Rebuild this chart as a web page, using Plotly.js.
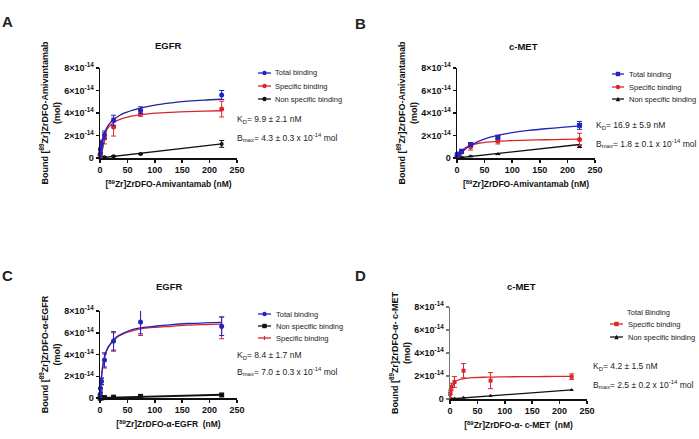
<!DOCTYPE html>
<html><head><meta charset="utf-8">
<script src="https://cdn.plot.ly/plotly-3.0.1.min.js"></script>
<style>html,body{margin:0;padding:0;background:#fff}#chart{width:699px;height:439px}</style>
</head><body><div id="chart"></div>
<script>
// ---- data (bound values in units of 1e-14 mol) ----
const conc = [0.3, 0.9, 2.7, 8.2, 24.7, 74, 222];
const fitConc = [0, 1, 2, 4, 6, 10, 15, 20, 30, 40, 60, 80, 100, 130, 160, 190, 222];
const lineConc = [0, 222];

const xTickVals = [0, 50, 100, 150, 200, 250];
const xTickText = ['0', '50', '100', '150', '200', '250'];
const yTickVals = [0, 2, 4, 6, 8];
const yTickText = ['0', '2×10<sup>-14</sup>', '4×10<sup>-14</sup>', '6×10<sup>-14</sup>', '8×10<sup>-14</sup>'];

// Panel A
const aTotal = [0.35, 0.8, 1.3, 2.05, 3.35, 4.25, 5.6];
const aTotalErr = [0.2, 0.3, 0.3, 0.35, 0.45, 0.3, 0.4];
const aSpec = [0.25, 0.7, 1.2, 1.75, 2.75, 3.95, 4.35];
const aSpecErr = [0.2, 0.3, 0.3, 0.5, 0.8, 0.25, 0.7];
const aNS = [0.01, 0.02, 0.04, 0.07, 0.15, 0.35, 1.25];
const aNSErr = [0, 0, 0, 0, 0.05, 0.05, 0.3];
const aTotalFit = [0, 0.45, 0.85, 1.45, 1.9, 2.45, 2.9, 3.2, 3.6, 3.9, 4.25, 4.5, 4.7, 4.9, 5.05, 5.15, 5.22];
const aSpecFit = [0, 0.42, 0.8, 1.4, 1.8, 2.3, 2.7, 2.95, 3.3, 3.5, 3.75, 3.88, 3.98, 4.06, 4.12, 4.17, 4.2];
const aNSLine = [0, 1.25];

// Panel B
const bTotal = [0.2, 0.3, 0.35, 0.6, 1.2, 1.85, 2.9];
const bTotalErr = [0.1, 0.1, 0.1, 0.15, 0.15, 0.15, 0.35];
const bSpec = [0.15, 0.2, 0.3, 0.5, 1.0, 1.5, 1.65];
const bSpecErr = [0.1, 0.1, 0.1, 0.1, 0.3, 0.25, 0.55];
const bNS = [0.01, 0.02, 0.03, 0.07, 0.15, 0.35, 1.05];
const bNSErr = [0, 0, 0, 0, 0.03, 0.05, 0.12];
const bTotalFit = [0, 0.07, 0.13, 0.25, 0.36, 0.55, 0.78, 0.97, 1.27, 1.5, 1.85, 2.08, 2.25, 2.45, 2.6, 2.72, 2.85];
const bSpecFit = [0, 0.1, 0.19, 0.35, 0.48, 0.7, 0.9, 1.03, 1.2, 1.31, 1.43, 1.5, 1.55, 1.59, 1.62, 1.65, 1.68];
const bNSLine = [0, 1.2];

// Panel C
const cTotal = [0.35, 0.9, 1.55, 3.5, 5.25, 7.0, 6.6];
const cTotalErr = [0.3, 0.4, 0.3, 0.65, 0.85, 1.1, 0.85];
const cSpec = [0.3, 0.85, 1.5, 3.4, 5.15, 6.9, 6.45];
const cSpecErr = [0.3, 0.4, 0.3, 0.65, 0.85, 1.15, 1.0];
const cNS = [0.0, 0.01, 0.02, 0.04, 0.08, 0.15, 0.28];
const cTotalFit = [0, 0.85, 1.55, 2.55, 3.25, 4.1, 4.7, 5.05, 5.6, 5.9, 6.3, 6.5, 6.6, 6.75, 6.85, 6.9, 6.95];
const cSpecFit = [0, 0.8, 1.5, 2.5, 3.2, 4.05, 4.65, 5.0, 5.55, 5.85, 6.2, 6.4, 6.5, 6.6, 6.7, 6.75, 6.8];
const cNSLine = [0, 0.3];

// Panel D
const dSpec = [0.43, 0.72, 1.07, 1.48, 2.46, 1.6, 1.94];
const dSpecErr = [0.3, 0.3, 0.3, 0.47, 0.62, 0.7, 0.25];
const dNS = [0.0, 0.01, 0.02, 0.05, 0.1, 0.29, 0.78];
const dSpecFit = [0, 0.4, 0.7, 1.0, 1.25, 1.5, 1.65, 1.73, 1.8, 1.85, 1.89, 1.91, 1.93, 1.94, 1.95, 1.96, 1.97];
const dNSLine = [0, 0.8];

const legendA = ['Total binding', 'Specific binding', 'Non specific binding'];
const legendB = ['Total binding', 'Specific binding', 'Non specific binding'];
const legendC = ['Total binding', 'Non specific binding', 'Specific binding'];
const legendD = ['Total Binding', 'Specific binding', 'Non specific binding'];

// ---- styling ----
const W = 699, H = 439;
const FONT = 'Liberation Sans, Arial, sans-serif';
const BLUE = '#2323c0', BLUEFIT = '#23239a', RED = '#d9262b', BLACK = '#111111';
const px = x => x / W, py = y => 1 - y / H;

function pts(xa, ya, y, err, color, symbol, size) {
  return {x: conc, y: y, xaxis: xa, yaxis: ya, type: 'scatter', mode: 'markers', cliponaxis: false,
    showlegend: false, marker: {color: color, symbol: symbol, size: size || 5},
    error_y: err ? {type: 'data', array: err, color: color, thickness: 1, width: 2.5, visible: true} : {visible: false}};
}
function fit(xa, ya, xs, y, color, w) {
  return {x: xs, y: y, xaxis: xa, yaxis: ya, type: 'scatter', mode: 'lines', cliponaxis: false,
    showlegend: false, hoverinfo: 'skip', line: {color: color, width: w || 1.3, shape: 'spline', smoothing: 0.8}};
}

const traces = [
  fit('x', 'y', lineConc, aNSLine, BLACK), pts('x', 'y', aNS, aNSErr, BLACK, 'circle', 4),
  fit('x', 'y', fitConc, aSpecFit, RED), pts('x', 'y', aSpec, aSpecErr, RED, 'circle', 5),
  fit('x', 'y', fitConc, aTotalFit, BLUEFIT), pts('x', 'y', aTotal, aTotalErr, BLUE, 'circle', 5),

  fit('x2', 'y2', lineConc, bNSLine, BLACK), pts('x2', 'y2', bNS, bNSErr, BLACK, 'triangle-up', 4),
  fit('x2', 'y2', fitConc, bSpecFit, RED), pts('x2', 'y2', bSpec, bSpecErr, RED, 'circle', 5),
  fit('x2', 'y2', fitConc, bTotalFit, BLUE), pts('x2', 'y2', bTotal, bTotalErr, BLUE, 'square', 5),

  fit('x3', 'y3', lineConc, cNSLine, BLACK, 1.8), pts('x3', 'y3', cNS, null, BLACK, 'square', 5),
  fit('x3', 'y3', fitConc, cSpecFit, RED), pts('x3', 'y3', cSpec, cSpecErr, RED, 'circle', 3),
  fit('x3', 'y3', fitConc, cTotalFit, BLUE), pts('x3', 'y3', cTotal, cTotalErr, BLUE, 'circle', 5),

  fit('x4', 'y4', lineConc, dNSLine, BLACK), pts('x4', 'y4', dNS, null, BLACK, 'triangle-up', 4),
  fit('x4', 'y4', fitConc, dSpecFit, RED), pts('x4', 'y4', dSpec, dSpecErr, RED, 'square', 4)
];

function xax(dom, anchor, title, lc) {
  return {domain: dom, anchor: anchor, range: [0, 250], tickvals: xTickVals, ticktext: xTickText,
    showline: true, linecolor: lc || BLACK, linewidth: 1.5, ticks: 'outside', ticklen: 3, tickwidth: 1.5, tickcolor: lc || BLACK,
    showgrid: false, zeroline: false, tickfont: {family: FONT, size: 9, weight: 'bold', color: BLACK},
    title: {text: title, standoff: 7, font: {family: FONT, size: 8.5, weight: 'bold', color: BLACK}}};
}
function yax(dom, anchor, title, lc) {
  return {domain: dom, anchor: anchor, range: [0, 8], tickvals: yTickVals, ticktext: yTickText,
    showline: true, linecolor: lc || BLACK, linewidth: 1.5, ticks: 'outside', ticklen: 3, tickwidth: 1.5, tickcolor: lc || BLACK,
    showgrid: false, zeroline: false, tickfont: {family: FONT, size: 9, weight: 'bold', color: BLACK},
    title: {text: title, standoff: 2, font: {family: FONT, size: 9, weight: 'bold', color: BLACK}}};
}

const annotations = [];
const shapes = [];
function txt(x, y, t, size, opts) {
  annotations.push(Object.assign({xref: 'paper', yref: 'paper', x: px(x), y: py(y), text: t, showarrow: false,
    xanchor: 'left', yanchor: 'middle', borderpad: 0, font: {family: FONT, size: size, color: '#222'}}, opts || {}));
}
function legItem(x1, x2, y, color, symbol, label, tx) {
  if (color) {
    shapes.push({type: 'line', xref: 'paper', yref: 'paper', x0: px(x1), x1: px(x2), y0: py(y), y1: py(y), line: {color: color, width: 1.3}});
    const cx = (x1 + x2) / 2, r = 2.2;
    if (symbol === 'circle') shapes.push({type: 'circle', xref: 'paper', yref: 'paper', x0: px(cx - r), x1: px(cx + r), y0: py(y + r), y1: py(y - r), fillcolor: color, line: {width: 0}});
    if (symbol === 'square') shapes.push({type: 'rect', xref: 'paper', yref: 'paper', x0: px(cx - r), x1: px(cx + r), y0: py(y + r), y1: py(y - r), fillcolor: color, line: {width: 0}});
    if (symbol === 'triangle') shapes.push({type: 'path', xref: 'paper', yref: 'paper',
      path: `M ${px(cx - r)} ${py(y + r)} L ${px(cx + r)} ${py(y + r)} L ${px(cx)} ${py(y - r)} Z`, fillcolor: color, line: {width: 0}});
    if (symbol === 'cross') shapes.push({type: 'line', xref: 'paper', yref: 'paper', x0: px(cx), x1: px(cx), y0: py(y + 2), y1: py(y - 2), line: {color: color, width: 1.2}});
  }
  txt(tx, y, label, 7.5);
}

// panel letters and titles
txt(1, 22, '<b>A</b>', 15);
txt(354, 24, '<b>B</b>', 15);
txt(1, 275, '<b>C</b>', 15);
txt(354, 275, '<b>D</b>', 15);
const TF = {family: FONT, size: 9.5, color: BLACK};
txt(168, 45, '<b>EGFR</b>', 9.5, {xanchor: 'center', font: TF});
txt(523, 46, '<b>c-MET</b>', 9.5, {xanchor: 'center', font: TF});
txt(169, 286, '<b>EGFR</b>', 9.5, {xanchor: 'center', font: TF});
txt(521, 286, '<b>c-MET</b>', 9.5, {xanchor: 'center', font: TF});

// legends
legItem(258, 271, 73, BLUE, 'circle', legendA[0], 274);
legItem(258, 271, 86, RED, 'circle', legendA[1], 274);
legItem(258, 271, 99, BLACK, 'circle', legendA[2], 274);
legItem(612, 624, 74, BLUE, 'square', legendB[0], 628);
legItem(612, 624, 87, RED, 'circle', legendB[1], 628);
legItem(612, 624, 99, BLACK, 'triangle', legendB[2], 628);
legItem(258, 271, 314, BLUE, 'circle', legendC[0], 275);
legItem(258, 271, 326, BLACK, 'square', legendC[1], 275);
legItem(258, 271, 338, RED, 'cross', legendC[2], 275);
legItem(0, 0, 312, null, null, legendD[0], 626);
legItem(610, 623, 324, RED, 'square', legendD[1], 627);
legItem(610, 623, 337, BLACK, 'triangle', legendD[2], 627);

// fit parameters
const PF = 8.5;
txt(236, 120, 'K<sub>D</sub>= 9.9 ± 2.1 nM', PF);
txt(236, 137, 'B<sub>max</sub>= 4.3 ± 0.3 x 10<sup>-14</sup> mol', PF);
txt(595, 125, 'K<sub>D</sub>= 16.9 ± 5.9 nM', PF);
txt(595, 143, 'B<sub>max</sub>= 1.8 ± 0.1 x 10<sup>-14</sup> mol', PF);
txt(236, 355, 'K<sub>D</sub>= 8.4 ± 1.7 nM', PF);
txt(236, 371, 'B<sub>max</sub>= 7.0 ± 0.3 x 10<sup>-14</sup> mol', PF);
txt(592, 366, 'K<sub>D</sub>= 4.2 ± 1.5 nM', PF);
txt(592, 384, 'B<sub>max</sub>= 2.5 ± 0.2 x 10<sup>-14</sup> mol', PF);

const layout = {
  width: W, height: H, margin: {l: 0, r: 0, t: 0, b: 0}, paper_bgcolor: '#fff', plot_bgcolor: 'rgba(0,0,0,0)',
  showlegend: false, font: {family: FONT, color: BLACK},
  xaxis: xax([px(100), px(237)], 'y', '[<sup>89</sup>Zr]ZrDFO-Amivantamab (nM)'),
  yaxis: yax([py(158), py(68)], 'x', 'Bound [<sup>89</sup>Zr]ZrDFO-Amivantamab<br>(mol)'),
  xaxis2: xax([px(457), px(595)], 'y2', '[<sup>89</sup>Zr]ZrDFO-Amivantamab (nM)'),
  yaxis2: yax([py(158), py(68)], 'x2', 'Bound [<sup>89</sup>Zr]ZrDFO-Amivantamab<br>(mol)'),
  xaxis3: xax([px(100), px(237)], 'y3', '[<sup>89</sup>Zr]ZrDFO-α-EGFR  (nM)'),
  yaxis3: yax([py(398), py(311)], 'x3', 'Bound [<sup>89</sup>Zr]ZrDFO-α-EGFR<br>(mol)'),
  xaxis4: xax([px(450), px(587)], 'y4', '[<sup>89</sup>Zr]ZrDFO-α- c-MET  (nM)'),
  yaxis4: yax([py(399), py(307)], 'x4', 'Bound [<sup>89</sup>Zr]ZrDFO-α- c-MET<br>(mol)', '#777'),
  annotations: annotations, shapes: shapes
};

Plotly.newPlot('chart', traces, layout, {staticPlot: true, displayModeBar: false});
</script></body></html>
